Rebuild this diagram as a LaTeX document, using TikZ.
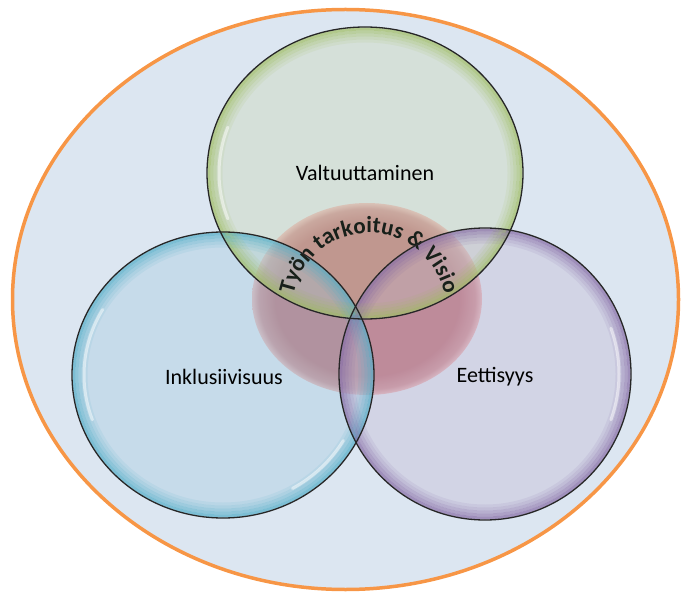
\documentclass[tikz,border=0pt]{standalone}
\usepackage{fontspec}
\setmainfont{Carlito}
\usetikzlibrary{decorations.text}

\definecolor{bgblue}{HTML}{DCE6F1}
\definecolor{rimorange}{HTML}{F79646}
\definecolor{grin}{HTML}{C8D5AF}
\definecolor{grrim}{HTML}{9BBB59}
\definecolor{blin}{HTML}{9DC9DD}
\definecolor{blrim}{HTML}{4BACC6}
\definecolor{puin}{HTML}{C2B3D1}
\definecolor{purim}{HTML}{8064A2}
\definecolor{rdin}{HTML}{BC767E}
\definecolor{rdrim}{HTML}{E3B9BC}
\definecolor{arctext}{HTML}{18201A}

\pgfdeclareradialshading{redbub}{\pgfpoint{0bp}{0bp}}{color(0bp)=(rdin); color(20bp)=(rdin); color(23.5bp)=(rdin!60!rdrim); color(25bp)=(rdrim); color(50bp)=(rdrim)}

\begin{document}
\begin{tikzpicture}[x=1pt, y=1pt,
		inner/.style={fill opacity=0.35},
		rim/.style={draw=black!85, line width=1.3pt},
		gloss/.style={draw=white, line width=3pt, opacity=0.5, line cap=round},
		label/.style={font=\fontsize{22}{26}\selectfont, text=black}]
		\useasboundingbox (0,0) rectangle (682,595);

		% Draw the background oval
		\coordinate (bg) at (345.5,295.5);
		\draw[fill=bgblue, draw=rimorange, line width=3.5pt] (bg) ellipse[x radius=333, y radius=290];

		% Draw the centre ellipse
		\coordinate (rdc) at (367,296);
		\shade[shading=redbub] (rdc) ellipse[x radius=115, y radius=96];

		% Draw the three bubbles
		\coordinate (grc) at (365,422);
		\coordinate (blc) at (223,220);
		\coordinate (puc) at (485,221);
		\fill[grin, inner] (grc) ellipse[x radius=158, y radius=146];
		\fill[blin, inner] (blc) ellipse[x radius=151, y radius=143];
		\fill[puin, inner] (puc) ellipse[x radius=146, y radius=146];

		% Coloured rims, fading inwards
		\foreach \d/\o in {2/0.6, 5/0.45, 8/0.32, 11/0.2, 14/0.1} {
			\draw[grrim, line width=3pt, opacity=\o] (grc) ellipse[x radius=158-\d, y radius=146-\d];
			\draw[blrim, line width=3pt, opacity=\o] (blc) ellipse[x radius=151-\d, y radius=143-\d];
			\draw[purim, line width=3pt, opacity=\o] (puc) ellipse[x radius=146-\d, y radius=146-\d];
		}

		% Gloss on the rims
		\draw[gloss] (grc) ++(160:146 and 134) arc[start angle=160, end angle=200, x radius=146, y radius=134];
		\draw[gloss] (blc) ++(150:139 and 131) arc[start angle=150, end angle=200, x radius=139, y radius=131];
		\draw[gloss] (blc) ++(300:139 and 131) arc[start angle=300, end angle=330, x radius=139, y radius=131];
		\draw[gloss] (puc) ++(-20:134 and 134) arc[start angle=-20, end angle=20, x radius=134, y radius=134];

		% Curved title over the centre
		\coordinate (arcc) at (369,285);
		\path[decorate, decoration={text along path, text align=center,
			text={|\bfseries\fontsize{23}{23}\selectfont\color{arctext}|Työn tarkoitus {\&} Visio}}]
			(arcc) ++(182:77) arc[start angle=182, end angle=-2, radius=77];

		% Draw the outlines
		\draw[rim] (grc) ellipse[x radius=158, y radius=146];
		\draw[rim] (blc) ellipse[x radius=151, y radius=143];
		\draw[rim] (puc) ellipse[x radius=146, y radius=146];

		\node[label] (valt) at (365,422) {Valtuuttaminen};
		\node[label] (inkl) at (224,218) {Inklusiivisuus};
		\node[label] (eett) at (495,218) {Eettisyys};

	\end{tikzpicture}
\end{document}
